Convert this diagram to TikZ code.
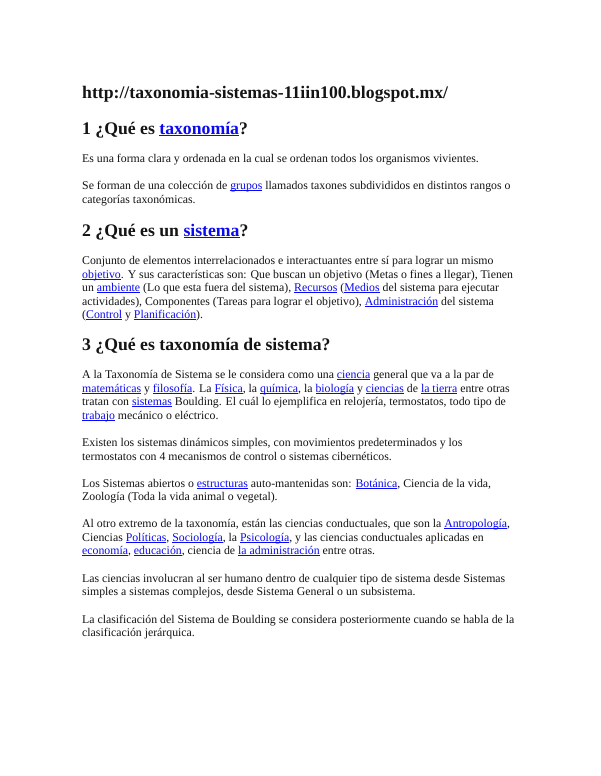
\documentclass[tikz,border=0pt]{standalone}
\usepackage{fontspec}
\setmainfont{Liberation Serif}
\definecolor{lb}{RGB}{10,10,240}
\definecolor{tx}{RGB}{20,20,20}
\newcommand\lnk[1]{{\color{lb}\setbox0\hbox{#1}\rlap{\rule[-1.4pt]{\wd0}{0.55pt}}\box0}}
\newcommand\hlnk[1]{{\color{lb}\setbox0\hbox{#1}\rlap{\rule[-2pt]{\wd0}{1pt}}\box0}}
\tikzset{
  ln/.style={anchor=base west, inner sep=0pt, text=tx, font=\fontsize{11.8}{13.5}\selectfont},
  hd/.style={anchor=base west, inner sep=0pt, text=tx, font=\fontsize{17.7}{20}\selectfont\bfseries},
  url/.style={anchor=base west, inner sep=0pt, text=tx, font=\fontsize{17.7}{20}\selectfont\bfseries}
}
\begin{document}
\begin{tikzpicture}[x=1pt,y=-1pt]
\useasboundingbox[fill=white] (0,0) rectangle (600,776);
\node[url] (u) at (82,99) {http://taxonomia-sistemas-11iin100.blogspot.mx/};
\node[hd] (h1) at (82,134) {1 ¿Qué es \hlnk{taxonomía}?};
\node[ln] (a1) at (82,162.5) {Es una forma clara y ordenada en la cual se ordenan todos los organismos vivientes.};
\node[ln] (b1) at (82,189.5) {Se forman de una colección de \lnk{grupos} llamados taxones subdivididos en distintos rangos o};
\node[ln] (b2) at (82,203) {categorías taxonómicas.};
\node[hd] (h2) at (82,236) {2 ¿Qué es un \hlnk{sistema}?};
\node[ln] (c1) at (82,264.5) {Conjunto de elementos interrelacionados e interactuantes entre sí para lograr un mismo};
\node[ln] (c2) at (82,278) {\lnk{objetivo}. Y sus características son: Que buscan un objetivo (Metas o fines a llegar), Tienen};
\node[ln] (c3) at (82,291.5) {un \lnk{ambiente} (Lo que esta fuera del sistema), \lnk{Recursos} (\lnk{Medios} del sistema para ejecutar};
\node[ln] (c4) at (82,305) {actividades), Componentes (Tareas para lograr el objetivo), \lnk{Administración} del sistema};
\node[ln] (c5) at (82,318.5) {(\lnk{Control} y \lnk{Planificación}).};
\node[hd] (h3) at (82,350) {3 ¿Qué es taxonomía de sistema?};
\node[ln] (d1) at (82,378.5) {A la Taxonomía de Sistema se le considera como una \lnk{ciencia} general que va a la par de};
\node[ln] (d2) at (82,392) {\lnk{matemáticas} y \lnk{filosofía}. La \lnk{Física}, la \lnk{química}, la \lnk{biología} y \lnk{ciencias} de \lnk{la tierra} entre otras};
\node[ln] (d3) at (82,405.5) {tratan con \lnk{sistemas} Boulding. El cuál lo ejemplifica en relojería, termostatos, todo tipo de};
\node[ln] (d4) at (82,419) {\lnk{trabajo} mecánico o eléctrico.};
\node[ln] (e1) at (82,446.5) {Existen los sistemas dinámicos simples, con movimientos predeterminados y los};
\node[ln] (e2) at (82,460) {termostatos con 4 mecanismos de control o sistemas cibernéticos.};
\node[ln] (f1) at (82,487) {Los Sistemas abiertos o \lnk{estructuras} auto-mantenidas son: \lnk{Botánica}, Ciencia de la vida,};
\node[ln] (f2) at (82,500.5) {Zoología (Toda la vida animal o vegetal).};
\node[ln] (g1) at (82,527.5) {Al otro extremo de la taxonomía, están las ciencias conductuales, que son la \lnk{Antropología},};
\node[ln] (g2) at (82,541) {Ciencias \lnk{Políticas}, \lnk{Sociología}, la \lnk{Psicología}, y las ciencias conductuales aplicadas en};
\node[ln] (g3) at (82,554.5) {\lnk{economía}, \lnk{educación}, ciencia de \lnk{la administración} entre otras.};
\node[ln] (k1) at (82,582) {Las ciencias involucran al ser humano dentro de cualquier tipo de sistema desde Sistemas};
\node[ln] (k2) at (82,595.5) {simples a sistemas complejos, desde Sistema General o un subsistema.};
\node[ln] (m1) at (82,623) {La clasificación del Sistema de Boulding se considera posteriormente cuando se habla de la};
\node[ln] (m2) at (82,636.5) {clasificación jerárquica.};
\end{tikzpicture}
\end{document}
